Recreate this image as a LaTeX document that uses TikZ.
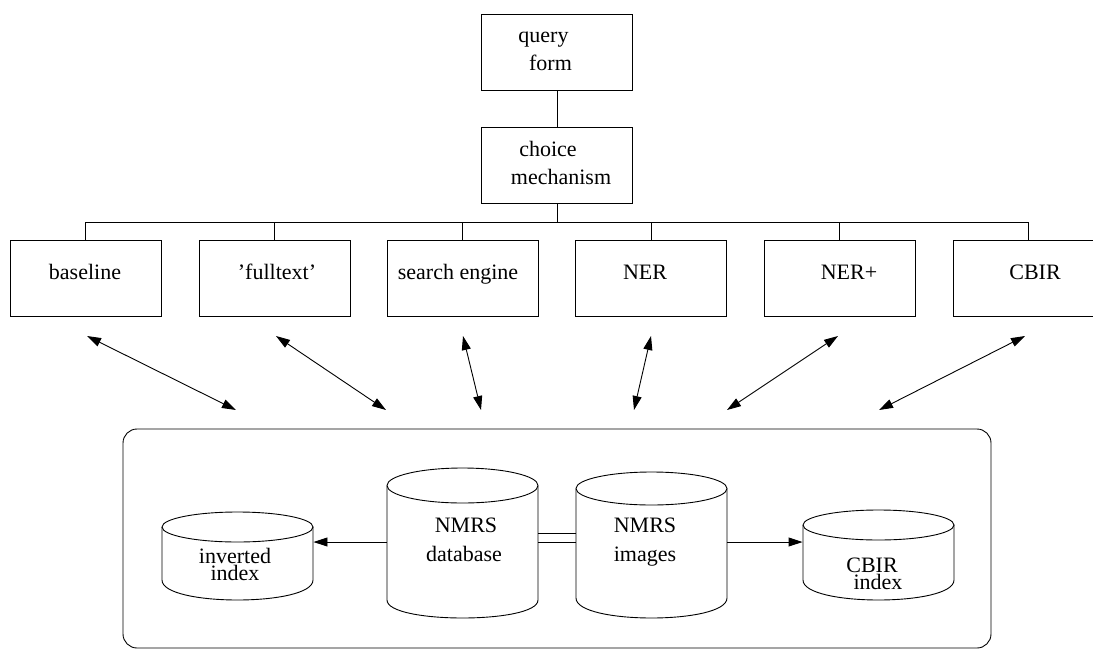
\documentclass[tikz,border=0pt]{standalone}
\usepackage{fontspec}
\setmainfont{Liberation Serif}
\usetikzlibrary{arrows.meta}

% cylinder outline: #1 left x, #2 right x, #3 top ellipse centre y,
% #4 top ellipse half height, #5 lower end of the sides, #6 depth of the bottom arc
\newcommand\dbcyl[6]{%
  \pgfmathsetmacro\cylcx{(#1+#2)/2}%
  \pgfmathsetmacro\cylrx{(#2-#1)/2}%
  \pgfmathsetmacro\cylcy{#5+4*#6/3}%
  \draw (\cylcx,#3) ellipse [x radius=\cylrx, y radius=#4];
  \draw (#1,#3) -- (#1,#5) .. controls (#1,\cylcy) and (#2,\cylcy) .. (#2,#5) -- (#2,#3);
}

\begin{document}
\begin{tikzpicture}[x=1pt,y=-1pt,line width=0.9pt,
  box/.style={draw, rectangle, minimum width=151pt, minimum height=76pt, inner sep=0pt},
  body/.style={inner sep=0pt, minimum width=151pt, minimum height=60pt},
  lbl/.style={font=\fontsize{22}{22}\selectfont, inner sep=0pt, anchor=base},
  tight/.style={font=\fontsize{22}{17}\selectfont, inner sep=0pt, align=center, anchor=base},
  tip/.style={-{Triangle[length=14pt,width=9pt]}},
  twoway/.style={{Triangle[length=14pt,width=9pt]}-{Triangle[length=14pt,width=9pt]}}]
\useasboundingbox (0,0) rectangle (1093,651);

% --- query and choice boxes
\node[box] (query)  at (557,52)    {};
\node[box] (choice) at (557,165.5) {};
\node[lbl] at (543.5,42.7) {query};
\node[lbl] at (550.5,70.7) {form};
\node[lbl] at (548,156)    {choice};
\node[lbl] at (561,184)    {mechanism};

% --- the six retrieval methods
\node[box] (b1) at (85.5,278.5)  {};
\node[box] (b2) at (274.5,278.5) {};
\node[box] (b3) at (462.5,278.5) {};
\node[box] (b4) at (651,278.5)   {};
\node[box] (b5) at (839.5,278.5) {};
\node[box] (b6) at (1028.5,278.5) {};
\node[lbl] at (85,279.3)   {baseline};
\node[lbl] at (277,279.3)  {'fulltext'};
\node[lbl] at (458,279.3)  {search engine};
\node[lbl] at (645,279.3)  {NER};
\node[lbl] at (849,279.3)  {NER+};
\node[lbl] at (1035,279.3) {CBIR};

% --- tree connections
\coordinate (bus) at (557,222);
\draw (query.south) -- (choice.north);
\draw (choice.south) -- (bus);
\draw (b1.north) -- (b1.north |- bus) -- (b6.north |- bus) -- (b6.north);
\foreach \b in {b2,b3,b4,b5} \draw (\b.north) -- (\b.north |- bus);

% --- two-way arrows between methods and the data store
\coordinate (a1) at (87,336);   \coordinate (z1) at (236,410);
\coordinate (a2) at (276,336);  \coordinate (z2) at (386,410);
\coordinate (a3) at (463,336);  \coordinate (z3) at (481,410);
\coordinate (a4) at (651,336);  \coordinate (z4) at (634,410);
\coordinate (a5) at (838,336);  \coordinate (z5) at (727,410);
\coordinate (a6) at (1025,336); \coordinate (z6) at (879,410);
\foreach \i in {1,...,6} \draw[twoway] (a\i) -- (z\i);

% --- data store frame
\draw[rounded corners=14pt] (123,429) rectangle (991,648);

% --- cylinders
\dbcyl{162}{313}{527}{15}{580}{20}
\dbcyl{387}{538}{485.5}{17.5}{600}{18}
\dbcyl{576}{727}{488.5}{16.5}{598}{20}
\dbcyl{803}{954}{525}{15}{580}{20}

\node[body] (inv) at (237.5,542) {};
\node[body] (db)  at (462.5,542) {};
\node[body] (img) at (651.5,542) {};
\node[body] (cbi) at (878.5,542) {};

\node[tight] at (235,580) {inverted\\index};
\node[lbl] at (466,532.7) {NMRS};
\node[lbl] at (464,561.7) {database};
\node[lbl] at (645,532.7) {NMRS};
\node[lbl] at (645,561.7) {images};
\node[tight] at (872,589) {CBIR\\\hspace*{12pt}index};

% --- links between the stores
\draw[tip] (db.west) -- (inv.east);
\draw[tip] (img.east) -- (cbi.west);
\draw (db.east |- 0,533) -- (img.west |- 0,533);
\draw (db.east) -- (img.west);
\end{tikzpicture}
\end{document}
